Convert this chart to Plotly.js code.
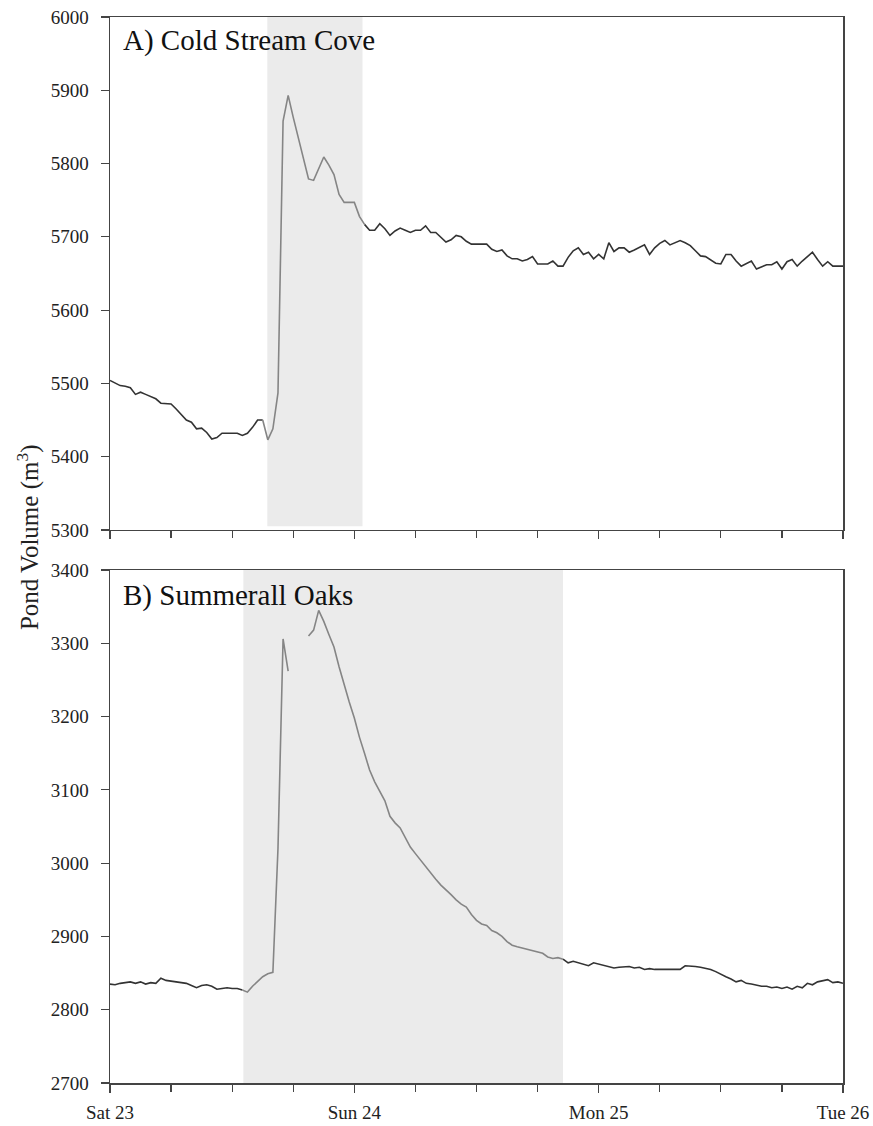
<!DOCTYPE html>
<html>
<head>
<meta charset="utf-8">
<script src="https://cdn.plot.ly/plotly-3.0.1.min.js"></script>
<style>
  html, body { margin: 0; padding: 0; background: #fff; }
  #chart { width: 873px; height: 1126px; }
</style>
</head>
<body>
<div id="chart"></div>
<script>
// Pond volume logged every 30 minutes from Sat 23 00:00 to Tue 26 00:00
const START = Date.UTC(2012, 5, 23);
const STEP_HOURS = 0.5;

const coldStreamCove = [
  5504, 5500, 5497, 5496, 5494, 5485, 5488, 5485, 5482, 5479,
  5473, 5472, 5472, 5465, 5458, 5450, 5447, 5438, 5439, 5433,
  5424, 5426, 5432, 5432, 5432, 5432, 5429, 5432, 5440, 5450,
  5450, 5423, 5438, 5487, 5858, 5893, 5863, 5835, 5805, 5779,
  5777, 5792, 5809, 5798, 5785, 5758, 5747, 5747, 5747, 5728,
  5717, 5709, 5709, 5718, 5711, 5702, 5708, 5712, 5709, 5706,
  5709, 5709, 5715, 5706, 5706, 5699, 5693, 5696, 5702, 5700,
  5694, 5690, 5690, 5690, 5690, 5683, 5680, 5682, 5674, 5670,
  5670, 5667, 5669, 5673, 5663, 5663, 5663, 5667, 5660, 5660,
  5672, 5681, 5685, 5676, 5679, 5670, 5676, 5670, 5692, 5680,
  5685, 5685, 5679, 5682, 5685, 5689, 5676, 5685, 5691, 5695,
  5689, 5692, 5695, 5692, 5688, 5681, 5674, 5673, 5668, 5664,
  5663, 5676, 5676, 5667, 5660, 5663, 5667, 5656, 5659, 5662,
  5662, 5666, 5656, 5666, 5669, 5660, 5667, 5673, 5679, 5669,
  5660, 5666, 5660, 5660, 5660
];

const summerallOaks = [
  2835, 2834, 2836, 2837, 2838, 2836, 2838, 2835, 2837, 2836,
  2843, 2840, 2839, 2838, 2838, 2836, 2833, 2830, 2833, 2834,
  2832, 2828, 2829, 2830, 2829, 2829, 2827, 2824, 2832, 2838,
  2845, 2849, 2851, 3020, 3306, 3262, null, null, null, 3310,
  3318, 3345, 3330, 3312, 3295, 3268, 3243, 3220, 3198, 3172,
  3150, 3127, 3111, 3098, 3085, 3064, 3055, 3048, 3034, 3022,
  3013, 3004, 2996, 2986, 2978, 2970, 2964, 2957, 2950, 2944,
  2940, 2930, 2922, 2917, 2915, 2908, 2905, 2900, 2893, 2888,
  2886, 2884, 2882, 2880, 2878, 2877, 2872, 2870, 2871, 2869,
  2864, 2866, 2864, 2862, 2860, 2864, 2862, 2860, 2858, 2857,
  2858, 2859, 2859, 2857, 2858, 2855, 2856, 2855, 2855, 2855,
  2855, 2854, 2855, 2860, 2860, 2859, 2858, 2857, 2855, 2852,
  2848, 2845, 2842, 2838, 2840, 2836, 2835, 2833, 2832, 2832,
  2830, 2831, 2829, 2831, 2828, 2832, 2830, 2836, 2834, 2838,
  2840, 2841, 2837, 2838, 2836
];

// Storm windows (hours after start), shaded and drawn in grey
const stormA = [15.45, 24.8];
const stormB = [13.1, 44.5];

const panelTitles = ['A) Cold Stream Cove', 'B) Summerall Oaks'];
const yRangeA = [5300, 6000];
const yRangeB = [2700, 3400];

const HOUR = 3600000;
const times = coldStreamCove.map((_, i) => START + i * STEP_HOURS * HOUR);

// split a series into the parts outside and inside a window
function split(values, win) {
  const out = [], inside = [];
  const i0 = Math.floor(win[0] / STEP_HOURS), i1 = Math.ceil(win[1] / STEP_HOURS);
  values.forEach((v, i) => {
    const inWin = i >= i0 && i <= i1;
    const edge = i === i0 || i === i1;
    out.push(!inWin || edge ? v : null);
    inside.push(inWin ? v : null);
  });
  return { out, inside };
}

const DARK = '#333333', GREY = '#858585';
const a = split(coldStreamCove, stormA);
const b = split(summerallOaks, stormB);

const traces = [
  { x: times, y: a.out, xaxis: 'x', yaxis: 'y', mode: 'lines', line: { color: DARK, width: 1.6 } },
  { x: times, y: a.inside, xaxis: 'x', yaxis: 'y', mode: 'lines', line: { color: GREY, width: 1.6 } },
  { x: times, y: b.out, xaxis: 'x2', yaxis: 'y2', mode: 'lines', line: { color: DARK, width: 1.6 } },
  { x: times, y: b.inside, xaxis: 'x2', yaxis: 'y2', mode: 'lines', line: { color: GREY, width: 1.6 } }
];

const FONT = '"Liberation Serif", "Times New Roman", serif';
const xRange = [START, START + 72 * HOUR];

function xAxis(showLabels, anchor) {
  return {
    type: 'date', range: xRange, anchor: anchor,
    showgrid: false, zeroline: false,
    showline: true, linecolor: '#444', linewidth: 1.5, mirror: true,
    ticks: 'outside', ticklen: 8, tickwidth: 1.2, tickcolor: '#444',
    dtick: 24 * HOUR, tick0: START,
    tickformat: '%a %d', showticklabels: showLabels,
    ticklabelstandoff: 4,
    tickfont: { family: FONT, size: 19, color: '#222' },
    minor: { dtick: 6 * HOUR, tick0: START, ticks: 'outside', ticklen: 7, tickwidth: 1.2, tickcolor: '#444', showgrid: false }
  };
}
function yAxis(range, domain, anchor) {
  return {
    range: range, domain: domain, anchor: anchor,
    showgrid: false, zeroline: false,
    showline: true, linecolor: '#444', linewidth: 1.5, mirror: true,
    ticks: 'outside', ticklen: 8, tickwidth: 1.2, tickcolor: '#444',
    ticklabelstandoff: 8,
    dtick: 100, tickfont: { family: FONT, size: 19, color: '#222' }
  };
}

function band(win, xref, yref, y0, y1) {
  return {
    type: 'rect', layer: 'below', xref: xref, yref: yref,
    x0: START + win[0] * HOUR, x1: START + win[1] * HOUR, y0: y0, y1: y1,
    fillcolor: '#ebebeb', line: { width: 0 }
  };
}

const layout = {
  width: 873, height: 1126,
  margin: { l: 110, r: 30, t: 17, b: 43 },
  paper_bgcolor: '#fff', plot_bgcolor: '#fff',
  showlegend: false,
  font: { family: FONT },
  xaxis: xAxis(false, 'y'),
  yaxis: yAxis(yRangeA, [0.5188, 1], 'x'),
  xaxis2: xAxis(true, 'y2'),
  yaxis2: yAxis(yRangeB, [0, 0.4812], 'x2'),
  shapes: [
    band(stormA, 'x', 'y', 5305, 6000),
    band(stormB, 'x2', 'y2', 2696, 3404)
  ],
  annotations: [
    { text: panelTitles[0], xref: 'paper', yref: 'paper', x: 0.015, y: 0.9955, xanchor: 'left', yanchor: 'top',
      showarrow: false, font: { family: FONT, size: 29, color: '#111' } },
    { text: panelTitles[1], xref: 'paper', yref: 'paper', x: 0.015, y: 0.475, xanchor: 'left', yanchor: 'top',
      showarrow: false, font: { family: FONT, size: 29, color: '#111' } },
    { text: 'Pond Volume (m<sup>3</sup>)', xref: 'paper', yref: 'paper', x: -0.112, y: 0.512, xanchor: 'center', yanchor: 'middle',
      textangle: -90, showarrow: false, font: { family: FONT, size: 25, color: '#222' } }
  ]
};

Plotly.newPlot('chart', traces, layout, { displayModeBar: false, staticPlot: true });
</script>
</body>
</html>
